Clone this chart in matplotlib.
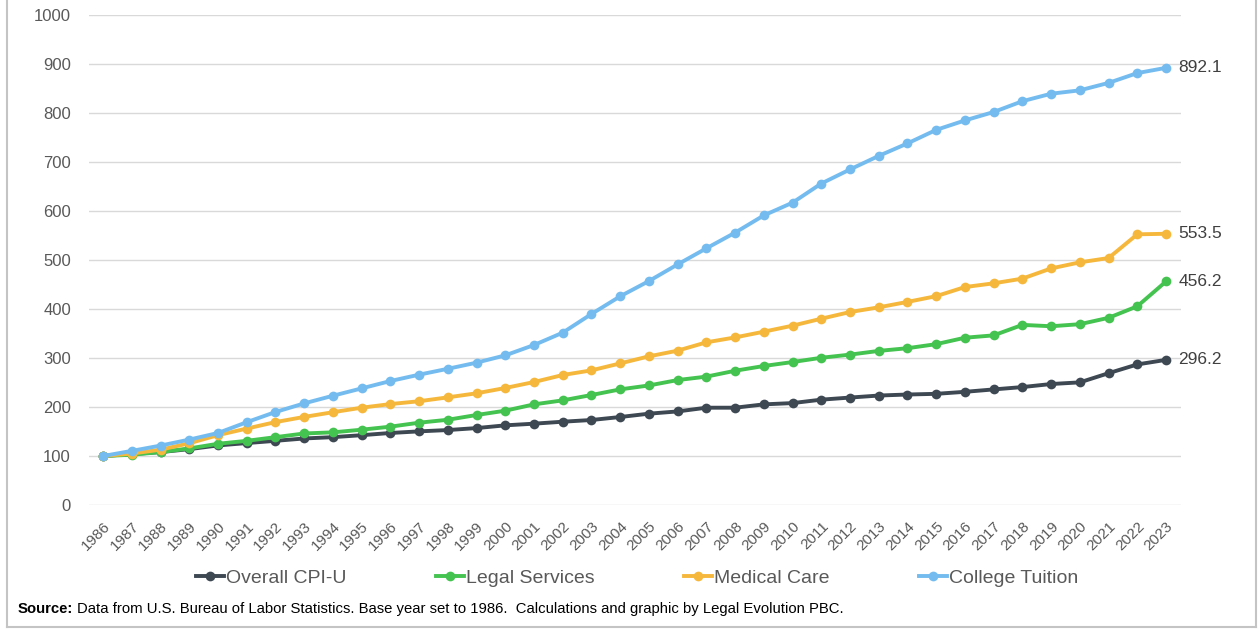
import matplotlib
matplotlib.use("Agg")
import matplotlib.pyplot as plt
from matplotlib.lines import Line2D

years = list(range(1986, 2024))

cpi_u = [100, 104, 108, 114, 121.6, 126.4, 131, 135.8, 138.5, 142.5, 147, 150.3,
         153, 157, 162.6, 166, 170, 173.5, 179.6, 186.4, 191, 198.6, 198.6, 205.4,
         208, 215, 219.3, 223.4, 225.5, 226.9, 231, 235.9, 240.7, 246.9, 250.3,
         269, 286.9, 296.2]
legal_services = [100, 102.7, 108, 115.5, 125, 131, 138.5, 146, 148.3, 153.7, 159.9,
                  168, 174, 183.7, 192.5, 205.4, 213.6, 224.5, 236, 244, 255, 262,
                  274, 283.7, 291.8, 300.5, 306.9, 314.5, 320, 328.3, 341.4, 346.2,
                  367.6, 364.8, 369, 382, 405.5, 456.2]
medical_care = [100, 105, 113, 126, 142.6, 156, 169.2, 179.8, 189.4, 198.6, 206,
                211.8, 219.7, 228, 238.8, 251, 265.3, 274.8, 289, 303.4, 315, 332,
                342, 353.7, 366, 380.2, 393.8, 403.4, 414.5, 426.2, 444.8, 452.4,
                462, 482.8, 495.2, 504, 552.4, 553.5]
college_tuition = [100, 110.5, 121.3, 133.5, 147, 169, 189.8, 207.4, 223, 238, 253,
                   266, 278, 290.5, 305.4, 326.5, 351.7, 389.8, 425.9, 457, 491,
                   523.8, 555.8, 591, 617, 656, 684.8, 712.4, 737.9, 765.5, 784.8,
                   802, 824, 839.3, 846.2, 861.4, 881.4, 892.1]

series_names = ["Overall CPI-U", "Legal Services", "Medical Care", "College Tuition"]
series_colors = ["#3d4853", "#45c350", "#f6b83c", "#74bcef"]
y_ticks = list(range(0, 1001, 100))

plt.rcParams["font.family"] = ["Liberation Sans", "DejaVu Sans"]

fig = plt.figure(figsize=(12.59, 6.29), dpi=100)
ax = fig.add_axes([0.0707, 0.1971, 0.8673, 0.7791])

all_series = [cpi_u, legal_services, medical_care, college_tuition]
for values, name, color in zip(all_series, series_names, series_colors):
    ax.plot(years, values, color=color, lw=2.8, marker="o", ms=7,
            markeredgewidth=0, label=name, solid_capstyle="round", zorder=3)
    ax.annotate(f"{values[-1]:.1f}", xy=(years[-1], values[-1]),
                xytext=(9, 0), textcoords="offset points", ha="left",
                va="center", fontsize=12.5, color="#404040")

ax.set_xlim(1985.51, 2023.52)
ax.set_ylim(0, 1000)
ax.set_yticks(y_ticks)
ax.set_xticks(years)
ax.set_xticklabels([str(y) for y in years], rotation=45, ha="right",
                   rotation_mode="anchor", fontsize=11, color="#595959")
ax.tick_params(axis="y", labelsize=12, labelcolor="#595959", length=0, pad=13)
ax.tick_params(axis="x", length=0, pad=10)
ax.grid(axis="y", color="#d9d9d9", lw=1)
ax.set_axisbelow(True)
for s in ax.spines.values():
    s.set_visible(False)

handles = [Line2D([], [], color=c, lw=2.8, marker="o", ms=7, markeredgewidth=0)
           for c in series_colors]
fig.legend(handles, series_names, loc="center", bbox_to_anchor=(0.506, 0.081),
           ncol=4, frameon=False, fontsize=14, handlelength=1.45,
           handletextpad=0.1, columnspacing=4.6, labelcolor="#595959")

# Source note: bold lead-in followed by regular text
renderer = fig.canvas.get_renderer()
lead = fig.text(18 / 1259, 1 - 609 / 629, "Source:", fontsize=10.7,
                fontweight="bold", color="#000000", va="center", ha="left")
bb = lead.get_window_extent(renderer=renderer)
fig.text((bb.x1 + 4) / 1259, 1 - 609 / 629,
         "Data from U.S. Bureau of Labor Statistics. Base year set to 1986.  "
         "Calculations and graphic by Legal Evolution PBC.",
         fontsize=10.7, color="#000000", va="center", ha="left")

# Outer frame lines
frame_color = "#c4c4c4"
fig.add_artist(Line2D([7 / 1259, 7 / 1259], [1 - 627 / 629, 1.0],
                      transform=fig.transFigure, color=frame_color, lw=1.5))
fig.add_artist(Line2D([1256 / 1259, 1256 / 1259], [1 - 627 / 629, 1.0],
                      transform=fig.transFigure, color=frame_color, lw=1.5))
fig.add_artist(Line2D([7 / 1259, 1256 / 1259], [1 - 627 / 629, 1 - 627 / 629],
                      transform=fig.transFigure, color=frame_color, lw=1.5))

fig.savefig("out.png", dpi=100, facecolor="white")
